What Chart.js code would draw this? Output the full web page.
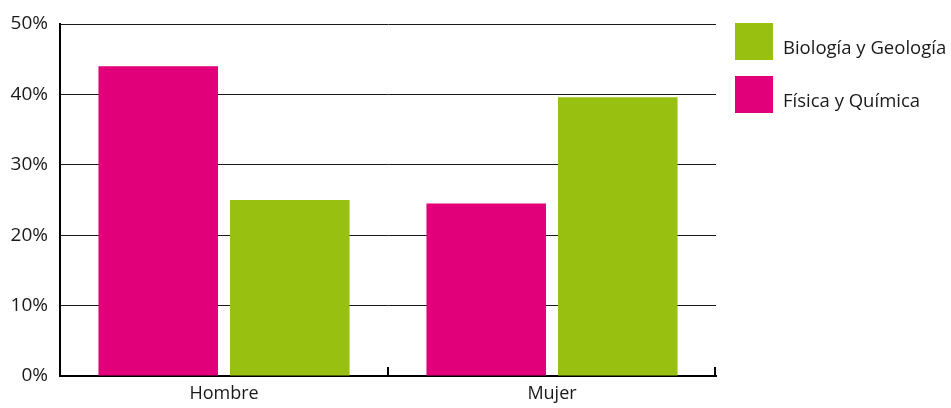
<!DOCTYPE html>
<html lang="es">
<head>
<meta charset="utf-8">
<title>Física y Química / Biología y Geología por sexo</title>
<script src="https://cdn.jsdelivr.net/npm/chart.js@4/dist/chart.umd.min.js"></script>
<style>
  html, body { margin: 0; padding: 0; background: #ffffff; }
  #wrap { width: 951px; height: 408px; position: relative; }
</style>
</head>
<body>
<div id="wrap"><canvas id="chart" width="951" height="408"></canvas></div>
<script>
// Categories and series (percent of students choosing each subject)
const categories = ['Hombre', 'Mujer'];
const fisicaQuimica = [44, 24.5];
const biologiaGeologia = [25, 39.6];
const yTicks = [0, 10, 20, 30, 40, 50];

const seriesNames = ['Física y Química', 'Biología y Geología'];
const PINK = '#e2007a';
const GREEN = '#98c010';
const INK = '#1a1a1a';

Chart.defaults.font.family = '"Open Sans", "Noto Sans", sans-serif';
Chart.defaults.color = INK;

// Short upward tick marks on the category axis, at each category boundary
const categoryTicks = {
  id: 'categoryTicks',
  afterDraw(chart) {
    const x = chart.scales.x;
    const n = chart.data.labels.length;
    const step = (x.right - x.left) / n;
    const ctx = chart.ctx;
    ctx.save();
    ctx.strokeStyle = '#000';
    ctx.lineWidth = 2;
    for (let i = 1; i <= n; i++) {
      const px = Math.round(x.left + i * step) - (i === n ? 1 : 0);
      ctx.beginPath();
      ctx.moveTo(px, x.top + 1);
      ctx.lineTo(px, x.top - 9);
      ctx.stroke();
    }
    ctx.restore();
  }
};

// Legend on the right: square swatches with labels, last series first
const sideLegend = {
  id: 'sideLegend',
  afterDraw(chart) {
    const ctx = chart.ctx;
    const area = chart.chartArea;
    const items = chart.data.datasets.slice().reverse();
    const boxX = area.right + 19;
    const boxW = 38, boxH = 37, rowGap = 53;
    ctx.save();
    ctx.font = '18.5px "Open Sans", "Noto Sans", sans-serif';
    ctx.textBaseline = 'alphabetic';
    ctx.textAlign = 'left';
    items.forEach((ds, i) => {
      const top = area.top - 1 + i * rowGap;
      ctx.fillStyle = ds.backgroundColor;
      ctx.fillRect(boxX, top, boxW, boxH);
      ctx.fillStyle = INK;
      ctx.fillText(ds.label, boxX + boxW + 10, top + 30.5);
    });
    ctx.restore();
  }
};

new Chart(document.getElementById('chart'), {
  type: 'bar',
  data: {
    labels: categories,
    datasets: [
      { label: seriesNames[0], data: fisicaQuimica, backgroundColor: PINK, borderWidth: 0 },
      { label: seriesNames[1], data: biologiaGeologia, backgroundColor: GREEN, borderWidth: 0 }
    ]
  },
  options: {
    responsive: false,
    animation: false,
    layout: { padding: { top: 24, right: 235, left: 0, bottom: 0 } },
    datasets: {
      bar: { categoryPercentage: 0.802, barPercentage: 0.909 }
    },
    plugins: {
      legend: { display: false },
      tooltip: { enabled: false }
    },
    scales: {
      x: {
        grid: { display: true, drawOnChartArea: false, drawTicks: false, color: 'rgba(0,0,0,0)' },
        border: { display: true, color: '#000', width: 2 },
        ticks: { font: { size: 18 }, color: INK, padding: 7 },
        afterFit(scale) { scale.height = 32; }
      },
      y: {
        min: 0,
        max: 50,
        afterBuildTicks(scale) { scale.ticks = yTicks.map(v => ({ value: v })); },
        grid: { color: INK, lineWidth: 1, drawTicks: false },
        border: { display: true, color: '#000', width: 2 },
        ticks: {
          font: { size: 19 },
          color: INK,
          padding: 12,
          callback: v => v + '%'
        },
        afterFit(scale) { scale.width = 60; }
      }
    }
  },
  plugins: [categoryTicks, sideLegend]
});
</script>
</body>
</html>
